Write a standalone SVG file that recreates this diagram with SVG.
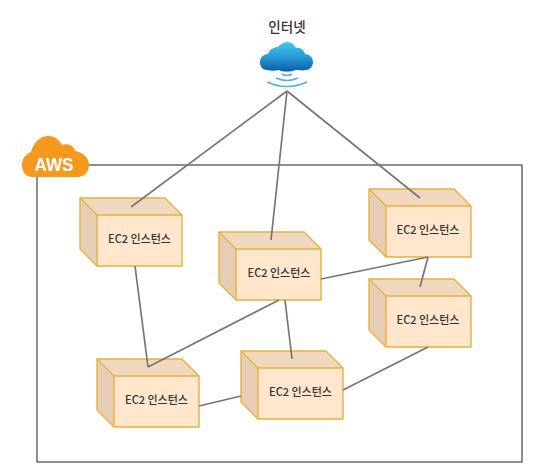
<svg xmlns="http://www.w3.org/2000/svg" width="545" height="469" viewBox="0 0 545 469">
<style>
.front{fill:#ffe6cc}
.top{fill:#f0d8bf}
.side{fill:#e6ceb5}
.edge{fill:none;stroke:#e5b13f;stroke-width:1.4;stroke-linejoin:round}
.lbl{font-family:"Noto Sans CJK KR","Noto Sans",sans-serif;font-size:11px;font-weight:500;fill:#333;text-anchor:middle}
.conn{fill:none;stroke:#767676;stroke-width:1.7}
</style>
<defs>
<linearGradient id="cl" x1="0" y1="0" x2="0" y2="1">
<stop offset="0" stop-color="#45c6ee"/><stop offset="0.5" stop-color="#2a9bd6"/><stop offset="1" stop-color="#0a5cab"/>
</linearGradient>
<g id="box">
<path class="front" d="M17 17H102V68H17Z"/>
<path class="top" d="M0 0H85L102 17H17Z"/>
<path class="side" d="M0 0L17 17V68L0 51Z"/>
<path class="edge" d="M0 0H85L102 17V68H17L0 51ZM0 0L17 17H102M17 17V68"/>
</g>
</defs>
<rect width="545" height="469" fill="#fff"/>
<rect x="37" y="165" width="485" height="297" fill="none" stroke="#444" stroke-width="1.2"/>
<g id="node-aws">
<path d="M33 177C24 177 22 170 22 165C22 158 26 154 31 152C33 143 40 136 48 136C56 136 60 141 62 145C68 143 74 146 75 151C82 152 89 157 89 165C89 172 84 177 78 177Z" fill="#f7981f"/>
<text x="54" y="171" font-family="Liberation Sans,sans-serif" font-size="19" font-weight="bold" fill="#fff" text-anchor="middle" textLength="39" lengthAdjust="spacingAndGlyphs">AWS</text>
</g>
<g id="node-1"><use href="#box" x="80" y="198"/><text class="lbl" x="139.500" y="243">EC2 인스턴스</text></g>
<g id="node-2"><use href="#box" x="219" y="232"/><text class="lbl" x="279" y="277">EC2 인스턴스</text></g>
<g id="node-3"><use href="#box" x="369" y="189"/><text class="lbl" x="428" y="234">EC2 인스턴스</text></g>
<g id="node-4"><use href="#box" x="369" y="279"/><text class="lbl" x="428" y="324">EC2 인스턴스</text></g>
<g id="node-5"><use href="#box" x="97" y="359"/><text class="lbl" x="156.500" y="404">EC2 인스턴스</text></g>
<g id="node-6"><use href="#box" x="241" y="351"/><text class="lbl" x="300.500" y="396">EC2 인스턴스</text></g>
<g id="connectors" class="conn">
<path d="M287 91L131 207"/>
<path d="M287 91L271 240"/>
<path d="M287 91L420 198"/>
<path d="M135 266L148 367"/>
<path d="M148 367L279 300"/>
<path d="M285 300L292 359"/>
<path d="M321 279L428 257"/>
<path d="M428 257L420 287"/>
<path d="M428 347L343 390"/>
<path d="M199 406L241 396"/>
</g>
<g id="node-internet">
<text x="287" y="32" font-family="Noto Sans CJK KR,sans-serif" font-size="13.500" font-weight="500" fill="#333" text-anchor="middle">인터넷</text>
<path d="M267 70C262 70 260 66 260 62C260 57 264 54 268 54C270 49 274 47 278 47C280 44 284 42 287 42C291 42 294 44 296 48C300 47 304 50 305 54C309 54 313 57 313 62C313 66 310 70 306 70C302 71 298 70 295 70C292 72 282 72 279 70C275 71 271 71 267 70Z" fill="url(#cl)"/>
<path d="M282 74Q287 77 292 74M276 78Q287 83 298 78M267 82Q287 91 307 82" fill="none" stroke="#4fb0e0" stroke-width="1.500"/>
</g>
</svg>
